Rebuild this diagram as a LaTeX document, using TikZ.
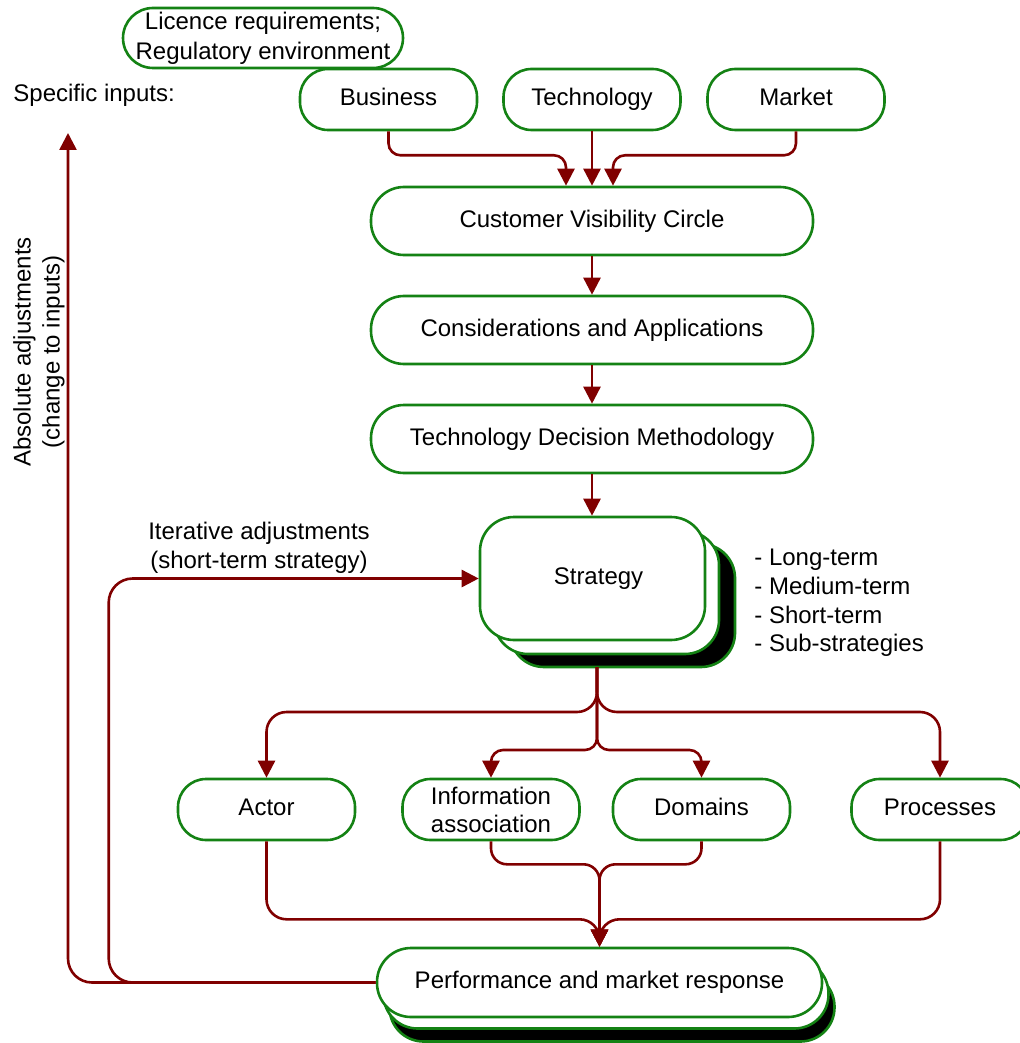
\documentclass[tikz,border=0pt]{standalone}
\usepackage{fontspec}
\setmainfont{Liberation Sans}
\usetikzlibrary{arrows.meta}
\definecolor{boxgreen}{RGB}{20,130,20}
\definecolor{flowred}{RGB}{128,0,0}

\begin{document}
\begin{tikzpicture}[x=0.5pt,y=-0.5pt,
  font=\fontsize{12}{14.5}\selectfont,
  pill/.style={draw=boxgreen, line width=1.3pt, fill=white, rounded corners=#1,
               align=center, inner sep=0pt},
  pill/.default=14pt,
  oneline/.style={text height=8.7pt, text depth=2.5pt},
  flow/.style={draw=flowred, line width=1.3pt, rounded corners=#1,
               -{Triangle[length=8.5pt,width=8.5pt]}},
  flow/.default=6pt
]
\useasboundingbox (0,0) rectangle (1019,1043);

% inputs
\node[pill=15pt, minimum width=140pt, minimum height=30pt, font=\fontsize{12}{15}\selectfont] (lic) at (263,38)
  {Licence requirements;\\Regulatory environment};
\node[anchor=west, inner sep=2pt] (spec) at (9,95) {Specific inputs:};
\node[pill, oneline, minimum width=88.5pt, minimum height=30.5pt] (bus)  at (388.5,99.5) {Business};
\node[pill, oneline, minimum width=88.5pt, minimum height=30.5pt] (tech) at (592,99.5) {Technology};
\node[pill, oneline, minimum width=88.5pt, minimum height=30.5pt] (mkt)  at (796,99.5) {Market};

% main chain
\node[pill=16.5pt, oneline, minimum width=221pt, minimum height=34pt] (cvc) at (592,221) {Customer Visibility Circle};
\node[pill=16.5pt, oneline, minimum width=221pt, minimum height=34pt] (con) at (592,330) {Considerations and Applications};
\node[pill=16.5pt, oneline, minimum width=221pt, minimum height=34pt] (tdm) at (592,439) {Technology Decision Methodology};

% strategy stack
\node[pill=17pt, fill=black, minimum width=112.5pt, minimum height=61.5pt] (strat3) at (622.5,605.5) {};
\node[pill=17pt, minimum width=112.5pt, minimum height=61.5pt] (strat2) at (606.5,592.5) {};
\node[pill=17pt, oneline, minimum width=112.5pt, minimum height=61.5pt] (strat) at (592.5,578.5) {\hspace*{6pt}Strategy};
\node[anchor=west, align=left, inner sep=2pt, font=\fontsize{12}{14.35}\selectfont] (terms) at (750,603)
  {- Long-term\\- Medium-term\\- Short-term\\- Sub-strategies};

% activity boxes
\node[pill, oneline, minimum width=88.5pt, minimum height=30.5pt] (actor) at (266.5,809.5) {Actor};
\node[pill, minimum width=88.5pt, minimum height=30.5pt, font=\fontsize{12}{14}\selectfont] (info) at (491,809.5) {Information\\association};
\node[pill, oneline, minimum width=88.5pt, minimum height=30.5pt] (dom) at (701.5,809.5) {Domains};
\node[pill, oneline, minimum width=88.5pt, minimum height=30.5pt] (proc) at (940,809.5) {Processes};

% performance stack
\node[pill=17pt, fill=black, minimum width=222.5pt, minimum height=34.5pt] (perf3) at (612,1007) {};
\node[pill=17pt, minimum width=222.5pt, minimum height=34.5pt] (perf2) at (606,994) {};
\node[pill=17pt, oneline, minimum width=222.5pt, minimum height=34.5pt] (perf) at (599.5,982.5) {Performance and market response};

% feedback labels
\node[rotate=90, align=center] (abs) at (39,352) {Absolute adjustments\\(change to inputs)};
\node[align=center] (iter) at (259,548) {Iterative adjustments\\(short-term strategy)};

% input connectors
\draw[flow] (bus.south) -- ++(0,24) -| ([xshift=-13pt]cvc.north);
\draw[flow] (tech.south) -- (cvc.north);
\draw[flow] (mkt.south) -- ++(0,24) -| ([xshift=10.5pt]cvc.north);

% chain connectors
\draw[flow] (cvc.south) -- (con.north);
\draw[flow] (con.south) -- (tdm.north);
\draw[flow] (tdm.south) -- (tdm.south |- strat.north);

% fan-out from strategy
\coordinate (stem) at (597,667);
\draw[flow=10pt] (stem) -- ++(0,45) -| (actor.north);
\draw[flow=10pt] (stem) -- ++(0,45) -| (proc.north);
\draw[flow=6pt] (stem) -- ++(0,83) -| (info.north);
\draw[flow=6pt] (stem) -- ++(0,83) -| (dom.north);

% fan-in to performance
\draw[flow=10pt] (actor.south) -- ++(0,78) -| (perf.north);
\draw[flow=10pt] (proc.south) -- ++(0,78) -| (perf.north);
\draw[flow=8pt] (info.south) -- ++(0,23) -| (perf.north);
\draw[flow=8pt] (dom.south) -- ++(0,23) -| (perf.north);

% feedback loops
\coordinate (absTip) at (68,133);
\draw[flow=12pt] (perf.west) -| (absTip);
\draw[flow=12pt] (perf.west) -- ++(-267,0) |- (strat.west);
\end{tikzpicture}
\end{document}
